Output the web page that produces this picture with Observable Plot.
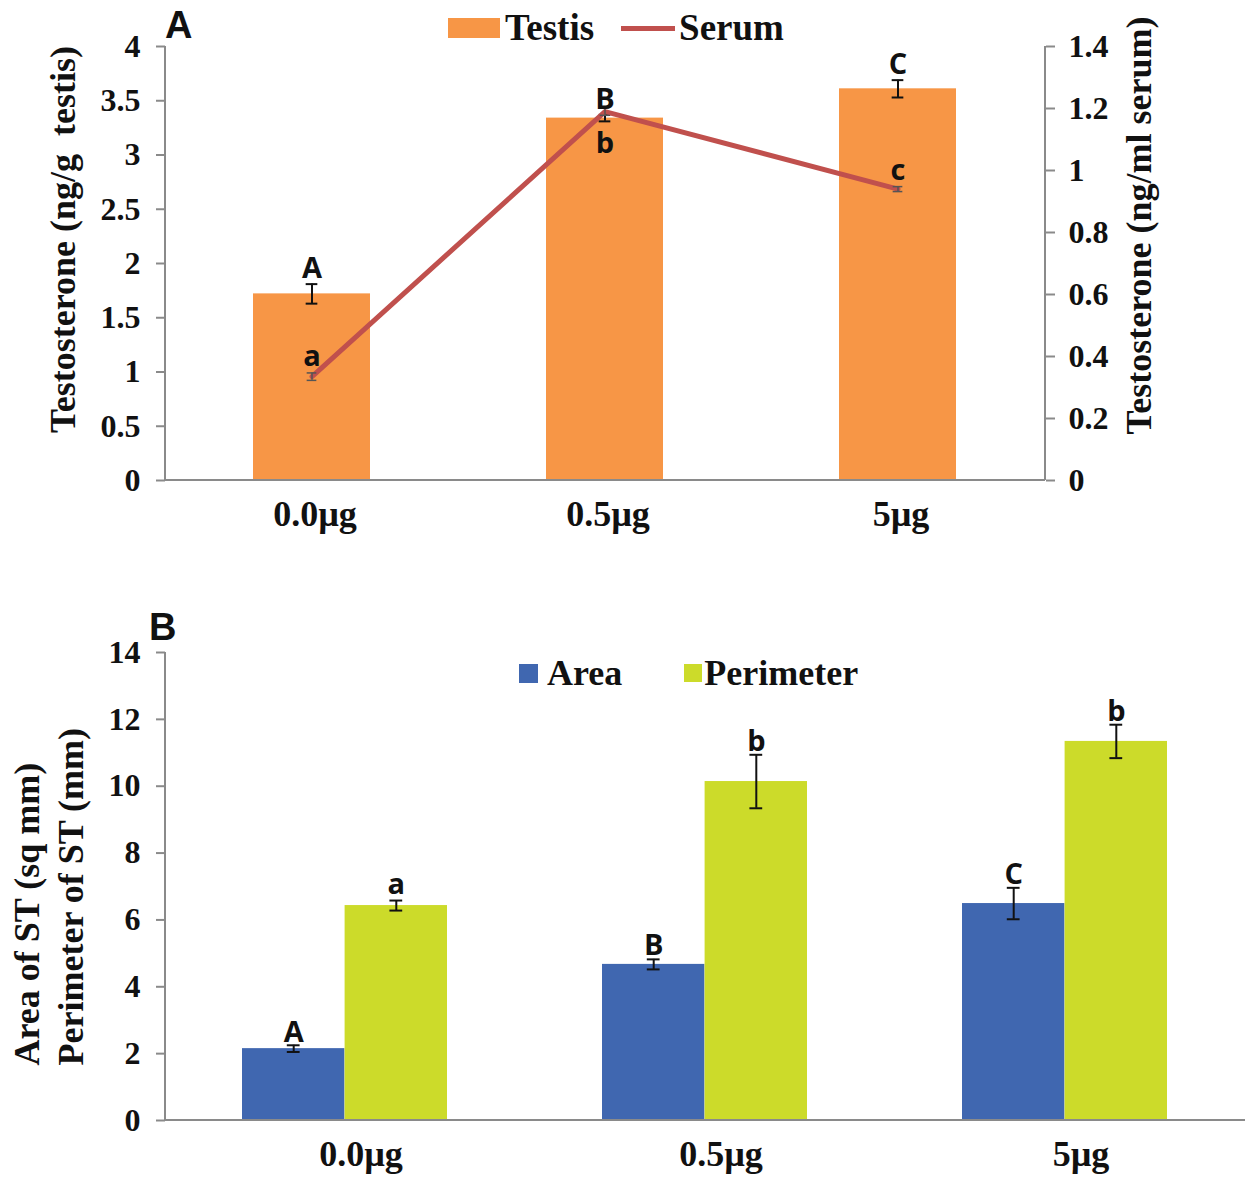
<!DOCTYPE html>
<html><head><meta charset="utf-8">
<script src="https://cdn.jsdelivr.net/npm/d3@7"></script>
<script src="https://cdn.jsdelivr.net/npm/@observablehq/plot@0.6"></script>
<style>
body{margin:0;background:#fff;}
#wrap{position:relative;width:1249px;height:1177px;overflow:hidden;background:#fff;}
#wrap svg{position:absolute;left:0;}
.leg{position:absolute;display:flex;align-items:center;font:bold 36px "Liberation Serif",serif;white-space:nowrap;color:#111;line-height:36px;}
.panel{position:absolute;font:bold 38px "Liberation Sans",Arial,sans-serif;color:#111;line-height:38px;}
</style></head><body><div id="wrap"></div>
<script>
// ---------- data ----------
const doses = ["0.0µg", "0.5µg", "5µg"];
// Panel A
const testis = [1.72, 3.34, 3.61];
const testisErr = [0.09, 0.03, 0.08];
const testisLetters = ["A", "B", "C"];
const serum = [0.335, 1.19, 0.94];
const serumErr = [0.012, 0.012, 0.008];
const serumLetters = ["a", "b", "c"];
const leftTicksA = [0, 0.5, 1, 1.5, 2, 2.5, 3, 3.5, 4];
const rightTicksA = [0, 0.2, 0.4, 0.6, 0.8, 1, 1.2, 1.4];
// Panel B
const area = [2.15, 4.67, 6.49];
const areaErr = [0.1, 0.15, 0.47];
const areaLetters = ["A", "B", "C"];
const perimeter = [6.43, 10.14, 11.34];
const perimeterErr = [0.15, 0.8, 0.5];
const perimeterLetters = ["a", "b", "b"];
const ticksB = [0, 2, 4, 6, 8, 10, 12, 14];

// ---------- style ----------
const W = 1249;
const gray = "#8a8a8a";
const serif = "Liberation Serif";
const sans = "Open Sans";
const orange = "#F79646", red = "#C0504D", blue = "#4067B0", green = "#CCDB2A";
const ratio = 4 / 1.4; // right axis (serum) mapped onto left axis (testis)

function axisLines(sides) {
  return (index, scales, values, dims) => {
    const {width, height, marginLeft: l, marginRight: r, marginTop: t, marginBottom: b} = dims;
    const g = d3.create("svg:g").attr("stroke", gray).attr("stroke-width", 2);
    if (sides.includes("left")) g.append("line").attr("x1", l).attr("x2", l).attr("y1", t).attr("y2", height - b);
    if (sides.includes("right")) g.append("line").attr("x1", width - r).attr("x2", width - r).attr("y1", t).attr("y2", height - b);
    if (sides.includes("bottom")) g.append("line").attr("x1", l).attr("x2", width - r).attr("y1", height - b).attr("y2", height - b);
    return g.node();
  };
}

const tickText = {fontFamily: serif, fontWeight: "bold", fill: "#111"};
const letterStyle = {fontFamily: sans, fontWeight: "bold", fontSize: 29, fill: "#111"};
const titleStyle = {fontSize: 36, fontFamily: serif, fontWeight: "bold", fill: "#111", rotate: -90, text: d => d};

// ---------- Panel A ----------
const A = doses.map((d, i) => ({dose: d, testis: testis[i], tErr: testisErr[i], tL: testisLetters[i],
  serum: serum[i], sErr: serumErr[i], sL: serumLetters[i]}));
const mlA = 165, mrA = 204;
const piA = 0.6, poA = 0.3;
const bwA = (W - mlA - mrA) / (doses.length - piA + 2 * poA) * (1 - piA);
const capA = 12;

const plotA = Plot.plot({
  width: W, height: 545, marginLeft: mlA, marginRight: mrA, marginTop: 46, marginBottom: 65,
  style: {fontFamily: serif, background: "white", overflow: "visible"},
  x: {domain: doses, paddingInner: piA, paddingOuter: poA, axis: null},
  y: {domain: [0, 4], axis: null},
  marks: [
    Plot.barY(A, {x: "dose", y: "testis", fill: orange}),
    Plot.ruleX(A, {x: "dose", y1: d => d.testis - d.tErr, y2: d => d.testis + d.tErr, stroke: "#111", strokeWidth: 2}),
    Plot.tickY(A, {x: "dose", y: d => d.testis + d.tErr, stroke: "#111", strokeWidth: 2, insetLeft: (bwA - capA) / 2, insetRight: (bwA - capA) / 2}),
    Plot.tickY(A, {x: "dose", y: d => d.testis - d.tErr, stroke: "#111", strokeWidth: 2, insetLeft: (bwA - capA) / 2, insetRight: (bwA - capA) / 2}),
    Plot.line(A, {x: "dose", y: d => d.serum * ratio, stroke: red, strokeWidth: 5}),
    Plot.ruleX(A, {x: "dose", y1: d => (d.serum - d.sErr) * ratio, y2: d => (d.serum + d.sErr) * ratio, stroke: "#555", strokeWidth: 1.5}),
    Plot.tickY(A, {x: "dose", y: d => (d.serum - d.sErr) * ratio, stroke: "#555", strokeWidth: 1.5, insetLeft: (bwA - 10) / 2, insetRight: (bwA - 10) / 2}),
    Plot.tickY(A, {x: "dose", y: d => (d.serum + d.sErr) * ratio, stroke: "#555", strokeWidth: 1.5, insetLeft: (bwA - 10) / 2, insetRight: (bwA - 10) / 2}),
    axisLines(["left", "right", "bottom"]),
    Plot.axisY({anchor: "left", ticks: leftTicksA, tickSize: 9, tickPadding: 16, stroke: gray, strokeWidth: 2, fontSize: 32, label: null, tickFormat: d => String(d), ...tickText}),
    Plot.axisY({anchor: "right", ticks: rightTicksA.map(v => v * ratio), tickSize: 9, tickPadding: 14, stroke: gray, strokeWidth: 2, fontSize: 32, label: null, tickFormat: v => String(+(v / ratio).toFixed(1)), ...tickText}),
    Plot.axisX({anchor: "bottom", tickSize: 0, tickPadding: 20, dx: 3, fontSize: 36, label: null, ...tickText}),
    Plot.text(A, {x: "dose", y: d => d.testis + d.tErr, text: "tL", lineAnchor: "bottom", dy: -6, ...letterStyle}),
    Plot.text(A, {filter: d => d.sL !== "b", x: "dose", y: d => (d.serum + d.sErr) * ratio, text: "sL", lineAnchor: "bottom", dy: -7, ...letterStyle}),
    Plot.text(A, {filter: d => d.sL === "b", x: "dose", y: d => (d.serum - d.sErr) * ratio, text: "sL", lineAnchor: "top", dy: 17, ...letterStyle}),
    Plot.text(["Testosterone (ng/g  testis)"], {frameAnchor: "left", textAnchor: "middle", lineAnchor: "middle", dx: -102, dy: -24, ...titleStyle}),
    Plot.text(["Testosterone (ng/ml serum)"], {frameAnchor: "right", textAnchor: "middle", lineAnchor: "middle", dx: 94, dy: -38, ...titleStyle})
  ]
});

// ---------- Panel B ----------
const B = doses.map((d, i) => ({dose: d, area: area[i], aErr: areaErr[i], aL: areaLetters[i],
  per: perimeter[i], pErr: perimeterErr[i], pL: perimeterLetters[i]}));
const mlB = 165, mrB = 4;
const piB = 0.43, poB = 0.215;
const bwB = (W - mlB - mrB) / (doses.length - piB + 2 * poB) * (1 - piB);
const capB = 13;
const errMarks = (val, err, side) => {
  const off = side * bwB / 4;
  const inL = bwB / 2 + off - capB / 2, inR = bwB / 2 - off - capB / 2;
  return [
    Plot.ruleX(B, {x: "dose", dx: off, y1: d => d[val] - d[err], y2: d => d[val] + d[err], stroke: "#111", strokeWidth: 2}),
    Plot.tickY(B, {x: "dose", y: d => d[val] + d[err], stroke: "#111", strokeWidth: 2, insetLeft: inL, insetRight: inR}),
    Plot.tickY(B, {x: "dose", y: d => d[val] - d[err], stroke: "#111", strokeWidth: 2, insetLeft: inL, insetRight: inR})
  ];
};

const plotB = Plot.plot({
  width: W, height: 632, marginLeft: mlB, marginRight: mrB, marginTop: 107, marginBottom: 57,
  style: {fontFamily: serif, background: "white", overflow: "visible"},
  x: {domain: doses, paddingInner: piB, paddingOuter: poB, axis: null},
  y: {domain: [0, 14], axis: null},
  marks: [
    Plot.barY(B, {x: "dose", y: "area", fill: blue, insetRight: bwB / 2}),
    Plot.barY(B, {x: "dose", y: "per", fill: green, insetLeft: bwB / 2}),
    ...errMarks("area", "aErr", -1),
    ...errMarks("per", "pErr", 1),
    axisLines(["left", "bottom"]),
    Plot.axisY({anchor: "left", ticks: ticksB, tickSize: 9, tickPadding: 16, stroke: gray, strokeWidth: 2, fontSize: 32, label: null, tickFormat: d => String(d), ...tickText}),
    Plot.axisX({anchor: "bottom", tickSize: 0, tickPadding: 20, dx: 16, fontSize: 36, label: null, ...tickText}),
    Plot.text(B, {filter: d => d.aL !== "A", x: "dose", dx: -bwB / 4, y: d => d.area + d.aErr, text: "aL", lineAnchor: "bottom", dy: -4, ...letterStyle}),
    Plot.text(B, {filter: d => d.aL === "A", x: "dose", dx: -bwB / 4, y: d => d.area + d.aErr, text: "aL", lineAnchor: "bottom", dy: -3, ...letterStyle}),
    Plot.text(B, {filter: d => d.pL !== "a", x: "dose", dx: bwB / 4, y: d => d.per + d.pErr, text: "pL", lineAnchor: "bottom", dy: -4, ...letterStyle}),
    Plot.text(B, {filter: d => d.pL === "a", x: "dose", dx: bwB / 4, y: d => d.per + d.pErr, text: "pL", lineAnchor: "bottom", dy: -7, ...letterStyle}),
    Plot.text(["Area of ST (sq mm)\nPerimeter of ST (mm)"], {frameAnchor: "bottom-left", textAnchor: "start", lineAnchor: "middle", lineHeight: 1.22, dx: -119, dy: -55, ...titleStyle})
  ]
});

// ---------- assemble ----------
const wrap = document.getElementById("wrap");
plotA.style.top = "0px";
plotB.style.top = "545px";
wrap.appendChild(plotA);
wrap.appendChild(plotB);

function el(html) { const t = document.createElement("template"); t.innerHTML = html.trim(); return t.content.firstChild; }
wrap.appendChild(el(`<div class="panel" style="left:165px;top:6px">A</div>`));
wrap.appendChild(el(`<div class="panel" style="left:149px;top:608px">B</div>`));
wrap.appendChild(el(`<div class="leg" style="left:448px;top:10px;font-size:37px">
  <span style="display:inline-block;width:52px;height:20px;background:${orange};margin-right:5px"></span><span>Testis</span>
  <span style="display:inline-block;width:54px;height:5px;background:${red};margin-left:27px;margin-right:4px"></span><span>Serum</span></div>`));
wrap.appendChild(el(`<div class="leg" style="left:519px;top:655px">
  <span style="display:inline-block;width:19px;height:19px;background:${blue};margin-right:9px"></span><span>Area</span>
  <span style="display:inline-block;width:18px;height:18px;background:${green};margin-left:62px;margin-right:2px"></span><span>Perimeter</span></div>`));
</script></body></html>
